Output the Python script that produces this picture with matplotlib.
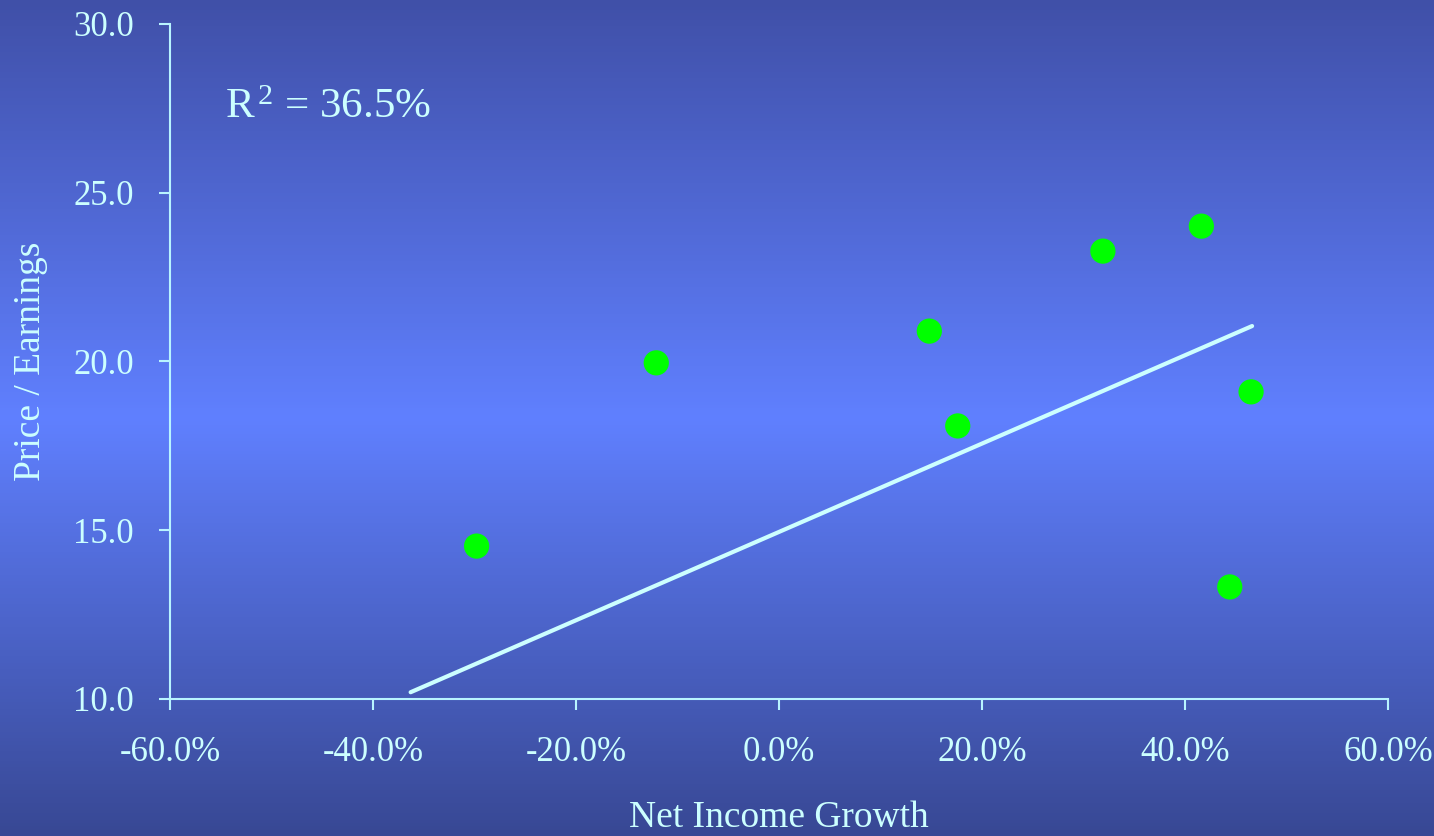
import numpy as np
import matplotlib
matplotlib.use("Agg")
import matplotlib.pyplot as plt
from matplotlib.colors import LinearSegmentedColormap
from matplotlib.ticker import FuncFormatter

plt.rcParams['font.family'] = ['Liberation Serif', 'DejaVu Serif']
plt.rcParams['mathtext.fontset'] = 'custom'
plt.rcParams['mathtext.rm'] = 'Liberation Serif'
plt.rcParams['mathtext.it'] = 'Liberation Serif:italic'

# data
growth = [-29.8, -12.1, 14.8, 17.6, 31.9, 41.6, 44.4, 46.5]   # net income growth, %
pe = [14.53, 19.96, 20.9, 18.09, 23.27, 24.01, 13.32, 19.1]   # price / earnings
trend_x = [-36.3, 46.6]
trend_y = [10.2, 21.05]
r2_label = "36.5%"

txt = "#ccffff"
axis_col = "#b8f4ff"

fig = plt.figure(figsize=(14.34, 8.36), dpi=100)

# gradient background
bg = fig.add_axes([0, 0, 1, 1], zorder=0)
cmap = LinearSegmentedColormap.from_list(
    "bg", [(0.0, "#384894"), (0.5, "#6080ff"), (1.0, "#4050a8")])
grad = np.linspace(0, 1, 256).reshape(-1, 1)
bg.imshow(grad, aspect="auto", cmap=cmap, extent=[0, 1, 0, 1], origin="lower")
bg.axis("off")

ax = fig.add_axes([0.1186, 0.1639, 0.8494, 0.8074], zorder=1)
ax.patch.set_alpha(0)

ax.plot(trend_x, trend_y, color=txt, lw=3, solid_capstyle="round", zorder=2)
ax.scatter(growth, pe, s=330, color="#00ff00", edgecolors="none", zorder=3)

ax.set_xlim(-60, 60)
ax.set_ylim(10, 30)
ax.set_xticks(np.arange(-60, 61, 20))
ax.set_yticks(np.arange(10, 31, 5))
ax.xaxis.set_major_formatter(FuncFormatter(lambda v, p: f"{v:.1f}%"))
ax.yaxis.set_major_formatter(FuncFormatter(lambda v, p: f"{v:.1f}"))

for s in ["top", "right"]:
    ax.spines[s].set_visible(False)
for s in ["left", "bottom"]:
    ax.spines[s].set_color(axis_col)
    ax.spines[s].set_linewidth(1.5)

ax.tick_params(axis="y", direction="out", length=8, width=1.5, color=axis_col,
               labelcolor=txt, labelsize=25, pad=18)
ax.tick_params(axis="x", direction="out", length=8, width=1.5, color=axis_col,
               labelcolor=txt, labelsize=25, pad=19)

ax.set_xlabel("Net Income Growth", color=txt, fontsize=27, labelpad=22)
ax.set_ylabel("Price / Earnings", color=txt, fontsize=27, labelpad=18)

ax.text(0.045, 0.861, r"R$^{\,2}$ = " + r2_label, transform=ax.transAxes,
        color=txt, fontsize=31, ha="left", va="baseline")

fig.savefig("out.png", dpi=100)
